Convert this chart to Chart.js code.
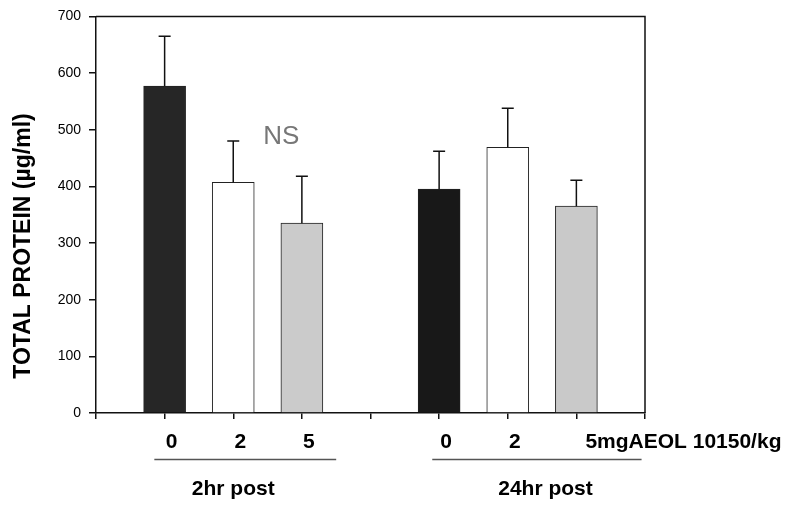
<!DOCTYPE html>
<html>
<head>
<meta charset="utf-8">
<script src="https://cdn.jsdelivr.net/npm/chart.js@4"></script>
<style>
  html, body { margin: 0; padding: 0; background: #fff; }
  #wrap { width: 796px; height: 509px; }
</style>
</head>
<body>
<div id="wrap"><canvas id="chartProtein" width="796" height="509"></canvas></div>
<script>
// data
const kategori = ['', '0', '2', '5', '', '0', '2', '5mgAEOL 10150/kg', ''];
const rataRata = [null, 577, 407, 335, null, 395, 469, 365, null];
const galat = [null, 88, 73, 83, null, 67, 69, 46, null];
const warnaBatang = ['#fff', '#262626', '#ffffff', '#cbcbcb', '#fff', '#181818', '#ffffff', '#c9c9c9', '#fff'];
const grupLabel = ['2hr post', '24hr post'];
const grupRentang = [[0.85, 3.5], [4.9, 7.95]];
const teksNS = 'NS';
const yTicks = [0, 100, 200, 300, 400, 500, 600, 700];

const font = '"Liberation Sans", Arial, sans-serif';

// error bar + annotation plugin
const tambahan = {
  id: 'tambahan',
  afterDatasetsDraw(chart) {
    const c = chart.ctx;
    const x = chart.scales.x, y = chart.scales.y;
    const area = chart.chartArea;
    c.save();
    // error bars (upper only)
    c.strokeStyle = '#111';
    c.lineWidth = 1.5;
    rataRata.forEach((v, i) => {
      if (v === null) return;
      const px = x.getPixelForValue(i);
      const yTop = y.getPixelForValue(v);
      const yErr = y.getPixelForValue(v + galat[i]);
      c.beginPath();
      c.moveTo(px, yTop);
      c.lineTo(px, yErr);
      c.moveTo(px - 6, yErr);
      c.lineTo(px + 6, yErr);
      c.stroke();
    });
    // frame top and right
    c.lineWidth = 1.5;
    c.beginPath();
    c.moveTo(area.left, area.top);
    c.lineTo(area.right, area.top);
    c.lineTo(area.right, area.bottom);
    c.stroke();
    // NS
    c.fillStyle = '#777';
    c.font = '26px ' + font;
    c.textAlign = 'center';
    c.textBaseline = 'middle';
    c.fillText(teksNS, x.getPixelForValue(2.7), y.getPixelForValue(488));
    // x labels
    c.fillStyle = '#000';
    c.font = 'bold 21px ' + font;
    kategori.forEach((lab, i) => {
      if (!lab) return;
      const px = x.getPixelForValue(i);
      if (lab.length > 2) {
        c.textAlign = 'left';
        c.fillText(lab, px + 9, 442);
      } else {
        c.textAlign = 'center';
        c.fillText(lab, px + 7, 442);
      }
    });
    // group lines and names
    c.strokeStyle = '#555';
    c.lineWidth = 1.3;
    grupLabel.forEach((g, k) => {
      const a = x.getPixelForValue(grupRentang[k][0]);
      const b = x.getPixelForValue(grupRentang[k][1]);
      c.beginPath();
      c.moveTo(a, 459.5);
      c.lineTo(b, 459.5);
      c.stroke();
      c.textAlign = 'center';
      c.fillStyle = '#000';
      c.fillText(g, k === 0 ? x.getPixelForValue(2) : x.getPixelForValue(6.55), 489);
    });
    // y title
    c.translate(24, 246);
    c.rotate(-Math.PI / 2);
    c.font = 'bold 23px ' + font;
    c.textAlign = 'center';
    c.fillText('TOTAL PROTEIN (\u00b5g/ml)', 0, 0);
    c.restore();
  }
};

const ctx = document.getElementById('chartProtein').getContext('2d');
const chart = new Chart(ctx, {
  type: 'bar',
  data: {
    labels: kategori,
    datasets: [{
      data: rataRata,
      backgroundColor: warnaBatang,
      borderColor: '#222',
      borderWidth: 1,
      barThickness: 42
    }]
  },
  options: {
    responsive: false,
    animation: false,
    layout: { padding: { top: 15, right: 151, left: 0, bottom: 0 } },
    plugins: { legend: { display: false }, tooltip: { enabled: false } },
    scales: {
      x: {
        offset: false,
        afterFit: s => { s.height = 96; },
        grid: { display: true, offset: false, drawOnChartArea: false, drawTicks: true, tickLength: 6, color: '#111', lineWidth: 1.5 },
        border: { display: true, color: '#111', width: 1.5 },
        ticks: { display: false }
      },
      y: {
        min: 0, max: 700,
        afterFit: s => { s.width = 96; },
        afterBuildTicks: s => { s.ticks = yTicks.map(v => ({ value: v })); },
        grid: { display: true, drawOnChartArea: false, drawTicks: true, tickLength: 7, color: '#111', lineWidth: 1.5 },
        border: { display: true, color: '#111', width: 1.5 },
        ticks: { color: '#000', font: { family: font, size: 14 }, padding: 8 }
      }
    }
  },
  plugins: [tambahan]
});
</script>
</body>
</html>
